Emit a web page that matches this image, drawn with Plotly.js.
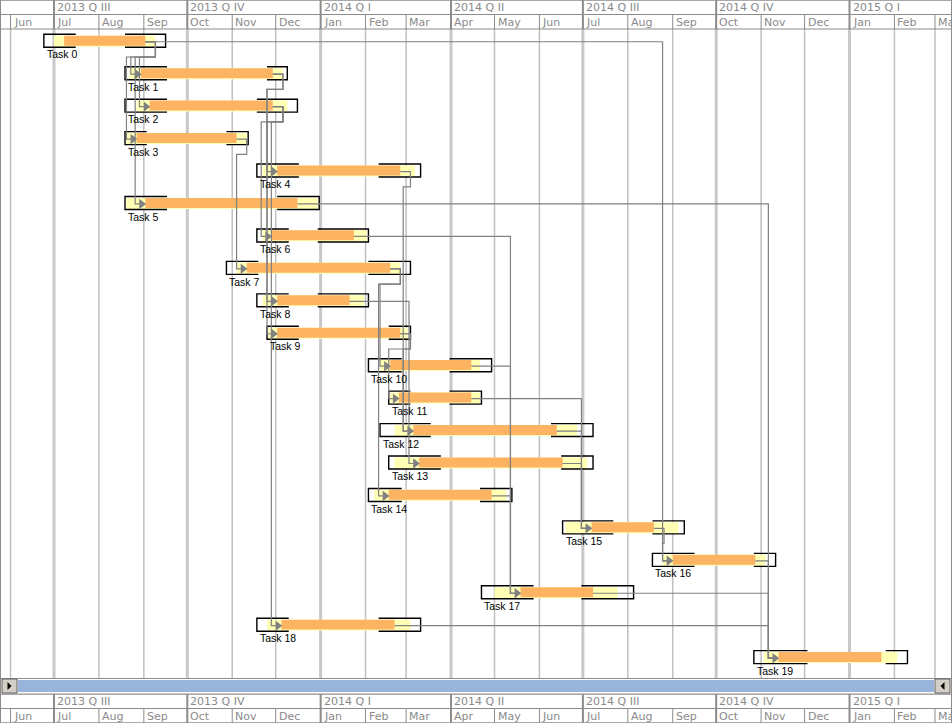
<!DOCTYPE html>
<html>
<head>
<meta charset="utf-8">
<script src="https://cdn.plot.ly/plotly-3.0.1.min.js"></script>
<style>
html,body{margin:0;padding:0;background:#fff;}
#chart{width:952px;height:723px;}
</style>
</head>
<body>
<div id="chart"></div>
<script>
// ---------------- data ----------------
const tasks = ['Task 0','Task 1','Task 2','Task 3','Task 4','Task 5','Task 6','Task 7','Task 8','Task 9',
               'Task 10','Task 11','Task 12','Task 13','Task 14','Task 15','Task 16','Task 17','Task 18','Task 19'];

// outer window (bracket) dates
const planStart = ['2013-06-24','2013-08-19','2013-08-19','2013-08-19','2013-11-18','2013-08-19','2013-11-18','2013-10-28','2013-11-18','2013-11-25',
                   '2014-02-03','2014-02-17','2014-02-11','2014-02-17','2014-02-03','2014-06-17','2014-08-18','2014-04-22','2013-11-18','2014-10-27'];
const startWindowEnd = ['2013-07-16','2013-09-17','2013-09-17','2013-09-03','2013-12-17','2013-09-17','2013-12-10','2013-11-19','2013-12-10','2013-12-17',
                   '2014-02-26','2014-03-04','2014-03-18','2014-03-25','2014-02-26','2014-07-22','2014-09-16','2014-05-28','2013-12-10','2014-12-03'];
const finishWindowStart = ['2013-08-19','2013-11-25','2013-11-18','2013-10-28','2014-02-10','2013-12-02','2013-12-30','2014-02-03','2013-12-30','2014-02-17',
                   '2014-03-31','2014-03-31','2014-06-09','2014-06-16','2014-04-21','2014-08-18','2014-10-27','2014-06-30','2014-02-10','2015-01-26'];
const planFinish = ['2013-09-16','2013-12-09','2013-12-16','2013-11-12','2014-03-11','2013-12-31','2014-02-03','2014-03-04','2014-02-03','2014-03-04',
                   '2014-04-29','2014-04-22','2014-07-08','2014-07-08','2014-05-13','2014-09-09','2014-11-11','2014-08-05','2014-03-11','2015-02-10'];
// light (yellow) span
const slackStart = ['2013-07-01','2013-08-22','2013-08-27','2013-08-20','2013-11-22','2013-08-20','2013-11-22','2013-11-04','2013-11-22','2013-11-26',
                   '2014-02-11','2014-02-18','2014-02-21','2014-02-21','2014-02-07','2014-06-19','2014-08-25','2014-05-01','2013-11-25','2014-11-03'];
const slackEnd = ['2013-09-09','2013-12-06','2013-12-09','2013-11-11','2014-03-07','2013-12-30','2014-02-02','2014-02-25','2014-01-31','2014-03-02',
                   '2014-04-21','2014-04-21','2014-06-27','2014-07-04','2014-05-09','2014-09-05','2014-11-04','2014-07-25','2014-03-04','2015-02-03'];
// work (orange) span
const workStart = ['2013-07-08','2013-08-30','2013-09-05','2013-08-27','2013-12-02','2013-09-02','2013-11-28','2013-11-11','2013-12-02','2013-12-02',
                   '2014-02-18','2014-02-24','2014-03-06','2014-03-10','2014-02-17','2014-07-07','2014-09-01','2014-05-19','2013-12-05','2014-11-13'];
const workEnd = ['2013-09-02','2013-11-29','2013-11-29','2013-11-04','2014-02-25','2013-12-16','2014-01-24','2014-02-18','2014-01-21','2014-02-25',
                   '2014-04-15','2014-04-15','2014-06-13','2014-06-17','2014-04-29','2014-08-19','2014-10-28','2014-07-08','2014-02-21','2015-01-23'];

// dependencies: [predecessor, successor]
const links = [[0,1],[0,2],[0,3],[0,5],[0,16],
               [1,4],[1,8],
               [2,6],[2,9],[2,18],
               [3,7],
               [4,12],
               [5,19],
               [6,17],
               [7,10],[7,14],
               [8,13],
               [9,11],[9,12],
               [10,17],[11,15],[12,15],[13,15],[14,17],[15,16],[16,19],[17,19],[18,19]];

// time scale header
const quarterStarts = ['2013-04-01','2013-07-01','2013-10-01','2014-01-01','2014-04-01','2014-07-01','2014-10-01','2015-01-01'];
const quarterLabels = ['2013 Q II','2013 Q III','2013 Q IV','2014 Q I','2014 Q II','2014 Q III','2014 Q IV','2015 Q I'];
const monthStarts = ['2013-06-01','2013-07-01','2013-08-01','2013-09-01','2013-10-01','2013-11-01','2013-12-01',
                     '2014-01-01','2014-02-01','2014-03-01','2014-04-01','2014-05-01','2014-06-01','2014-07-01',
                     '2014-08-01','2014-09-01','2014-10-01','2014-11-01','2014-12-01','2015-01-01','2015-02-01','2015-03-01'];
const monthLabels = ['Jun','Jul','Aug','Sep','Oct','Nov','Dec','Jan','Feb','Mar','Apr','May','Jun','Jul',
                     'Aug','Sep','Oct','Nov','Dec','Jan','Feb','Mar'];

// ---------------- helpers ----------------
const W = 952, H = 723;
const DAY = 864e5;
const ms = s => Date.parse(s + 'T00:00:00Z');
const iso = v => new Date(v).toISOString().slice(0, 19).replace('T', ' ');
const py = px => 1 - px / H;              // pixel row -> paper y

const BOX = 0.2, Y_TOP = -0.157, Y_BOT = 0.182, O_BOT = 0.151, LINE = 0.03;

function rects(x0, x1, top, bot) {
  const xs = [], ys = [];
  for (let i = 0; i < tasks.length; i++) {
    xs.push(x0[i], x1[i], x1[i], x0[i], x0[i], null);
    ys.push(i + top, i + top, i + bot, i + bot, i + top, null);
  }
  return {xs, ys};
}

const yellow = rects(slackStart, slackEnd, Y_TOP, Y_BOT);
const orange = rects(workStart, workEnd, Y_TOP, O_BOT);

const bx = [], by = [];
for (let i = 0; i < tasks.length; i++) {
  bx.push(startWindowEnd[i], planStart[i], planStart[i], startWindowEnd[i], null);
  by.push(i - BOX, i - BOX, i + BOX, i + BOX, null);
  bx.push(finishWindowStart[i], planFinish[i], planFinish[i], finishWindowStart[i], null);
  by.push(i - BOX, i - BOX, i + BOX, i + BOX, null);
}

const lx = [], ly = [], ax = [], ay = [];
const hasPred = new Set();
links.forEach(([p, s]) => {
  const start = ms(workEnd[p]);
  const turn = start + 7 * DAY;
  const vx = ms(workStart[s]) - 7 * DAY;
  const tip = ms(workStart[s]) - 4 * DAY;
  const y1 = p + LINE, y2 = s + LINE;
  if (vx >= turn) {
    lx.push(iso(start), iso(vx), iso(vx), iso(tip), null);
    ly.push(y1, y1, y2, y2, null);
  } else {
    const yd = p + 0.5;
    lx.push(iso(start), iso(turn), iso(turn), iso(vx), iso(vx), iso(tip), null);
    ly.push(y1, y1, yd, yd, y2, y2, null);
  }
  hasPred.add(s);
});
[...hasPred].forEach(s => {
  ax.push(iso(ms(workStart[s]) - 2.6 * DAY));
  ay.push(s + LINE);
});

const traces = [
  {type: 'scatter', mode: 'lines', x: yellow.xs, y: yellow.ys, fill: 'toself', fillcolor: '#ffffb3',
   line: {width: 0, color: 'rgba(0,0,0,0)'}, hoverinfo: 'skip', showlegend: false},
  {type: 'scatter', mode: 'lines', x: orange.xs, y: orange.ys, fill: 'toself', fillcolor: '#fdb462',
   line: {width: 0, color: 'rgba(0,0,0,0)'}, hoverinfo: 'skip', showlegend: false},
  {type: 'scatter', mode: 'lines', x: bx, y: by, line: {color: '#000', width: 1.4},
   hoverinfo: 'skip', showlegend: false},
  {type: 'scatter', mode: 'lines', x: lx, y: ly, line: {color: '#808080', width: 1.2},
   hoverinfo: 'skip', showlegend: false},
  {type: 'scatter', mode: 'markers', x: ax, y: ay,
   marker: {symbol: 'triangle-right', size: 9, color: '#808080', line: {width: 0}},
   hoverinfo: 'skip', showlegend: false}
];

// ---------------- layout pieces ----------------
const shapes = [];
const annotations = [];
const GRID_TOP = 28, GRID_BOT = 678;
const qSet = new Set(quarterStarts);

monthStarts.forEach(m => {
  const q = qSet.has(m);
  shapes.push({type: 'line', xref: 'x', yref: 'paper', x0: m, x1: m, y0: py(GRID_BOT), y1: py(GRID_TOP),
               line: {color: q ? '#c8c8c8' : '#c0c0c0', width: q ? 3 : 1.5}, layer: 'below'});
});

function header(topPx) {
  const rowH = 14.5;
  [topPx, topPx + rowH, topPx + 2 * rowH].forEach(yp => {
    shapes.push({type: 'line', xref: 'paper', yref: 'paper', x0: 0, x1: 1, y0: py(yp), y1: py(yp),
                 line: {color: '#8c8c8c', width: 1}});
  });
  quarterStarts.forEach((q, i) => {
    shapes.push({type: 'line', xref: 'x', yref: 'paper', x0: q, x1: q, y0: py(topPx), y1: py(topPx + 2 * rowH),
                 line: {color: '#8c8c8c', width: 2}});
    annotations.push({xref: 'x', yref: 'paper', x: q, y: py(topPx + rowH / 2 + 0.5), xanchor: 'left', yanchor: 'middle',
                      xshift: 1, text: quarterLabels[i], showarrow: false,
                      font: {family: 'DejaVu Sans', size: 11, color: '#8a8a8a'}});
  });
  monthStarts.forEach((m, i) => {
    shapes.push({type: 'line', xref: 'x', yref: 'paper', x0: m, x1: m, y0: py(topPx + rowH), y1: py(topPx + 2 * rowH),
                 line: {color: '#8c8c8c', width: 1}});
    annotations.push({xref: 'x', yref: 'paper', x: m, y: py(topPx + 1.5 * rowH + 0.5), xanchor: 'left', yanchor: 'middle',
                      xshift: 1, text: monthLabels[i], showarrow: false,
                      font: {family: 'DejaVu Sans', size: 11, color: '#8a8a8a'}});
  });
}
header(0);
header(694);

// scrollbar
shapes.push({type: 'rect', xref: 'paper', yref: 'paper', x0: 0, x1: 1, y0: py(694), y1: py(678.5),
             fillcolor: '#ffffff', line: {color: '#8c8c8c', width: 1}});
shapes.push({type: 'rect', xref: 'paper', yref: 'paper', x0: 18 / W, x1: 934 / W, y0: py(692), y1: py(680),
             fillcolor: '#98b4da', line: {width: 0}});
[[2, 17], [935, 950]].forEach(([a, b], k) => {
  shapes.push({type: 'rect', xref: 'paper', yref: 'paper', x0: a / W, x1: b / W, y0: py(693), y1: py(679),
               fillcolor: '#d4d0c8', line: {color: '#606060', width: 1}});
  const cx = (a + b) / 2, cy = 686;
  const path = k === 0
    ? `M ${(cx - 2) / W} ${py(cy - 4)} L ${(cx + 2) / W} ${py(cy)} L ${(cx - 2) / W} ${py(cy + 4)} Z`
    : `M ${(cx + 2) / W} ${py(cy - 4)} L ${(cx - 2) / W} ${py(cy)} L ${(cx + 2) / W} ${py(cy + 4)} Z`;
  shapes.push({type: 'path', xref: 'paper', yref: 'paper', path, fillcolor: '#000', line: {width: 0}});
});
// outer frame
shapes.push({type: 'rect', xref: 'paper', yref: 'paper', x0: 0.5 / W, x1: 1 - 0.5 / W, y0: 0, y1: 1,
             line: {color: '#8c8c8c', width: 1}, fillcolor: 'rgba(0,0,0,0)'});

// task labels
tasks.forEach((t, i) => {
  annotations.push({xref: 'x', yref: 'y', x: planStart[i], y: i + 0.42, xanchor: 'left', yanchor: 'middle',
                    xshift: 1, text: t, showarrow: false,
                    font: {family: 'Liberation Sans, Arial, sans-serif', size: 10.5, color: '#000'}});
});

const layout = {
  width: W, height: H,
  margin: {l: 0, r: 0, t: 0, b: 0},
  paper_bgcolor: '#fff', plot_bgcolor: '#fff',
  showlegend: false,
  xaxis: {type: 'date', range: ['2013-05-24 17:30', '2015-03-12 17:45'], showgrid: false, zeroline: false,
          showline: false, showticklabels: false, ticks: '', fixedrange: true},
  yaxis: {range: [21.0296, -1.2577], autorange: false, showgrid: false, zeroline: false, showline: false,
          showticklabels: false, ticks: '', fixedrange: true},
  shapes, annotations
};

Plotly.newPlot('chart', traces, layout, {displayModeBar: false, staticPlot: true});
</script>
</body>
</html>
